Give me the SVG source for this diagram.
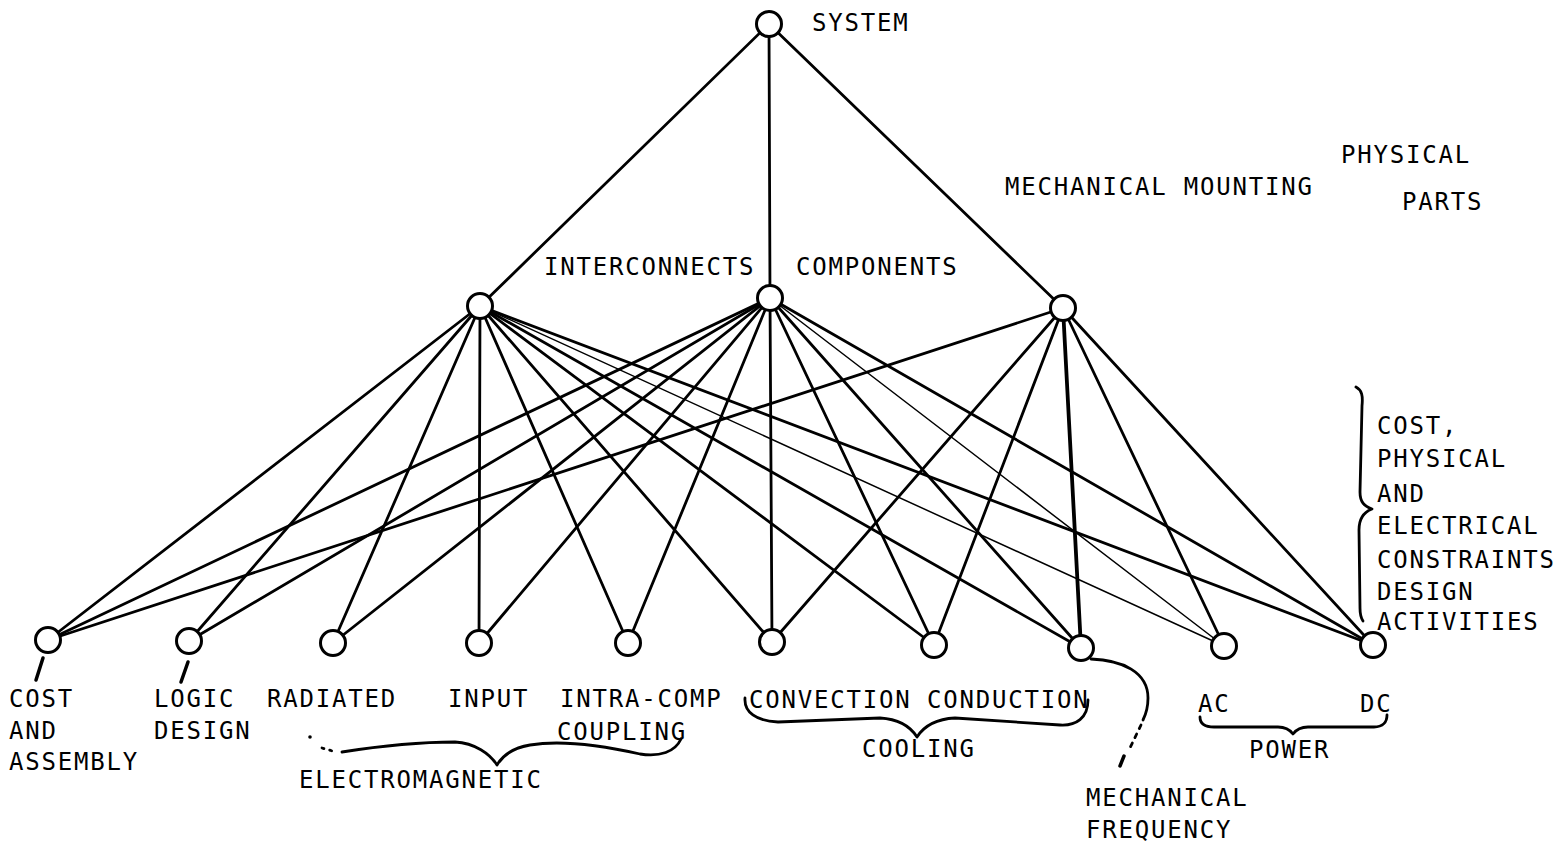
<svg xmlns="http://www.w3.org/2000/svg" width="1557" height="848" viewBox="0 0 1557 848">
  <style>
    .bg { fill: #ffffff; }
    .node { fill: #ffffff; stroke: #000000; stroke-width: 3; }
    .edge { stroke: #000000; stroke-width: 2.8; stroke-linecap: round; fill: none; }
    .thin { stroke-width: 1.5; }
    .heavy { stroke-width: 3.8; }
    .brace { stroke: #000000; stroke-width: 2.8; fill: none; stroke-linecap: round; stroke-linejoin: round; }
    .tick { stroke: #000000; stroke-width: 3.5; stroke-linecap: round; }
    .lbl { font-family: "DejaVu Sans Mono", "Liberation Mono", monospace; font-size: 24px; letter-spacing: 1.8px; fill: #000000; }
  </style>
  <rect class="bg" x="0" y="0" width="1557" height="848"/>

  <!-- connectors -->
  <g id="connectors">
    <!-- system to the three physical parts -->
    <line class="edge" x1="769" y1="24" x2="480" y2="306"/>
    <line class="edge" x1="769" y1="24" x2="770" y2="298"/>
    <line class="edge" x1="769" y1="24" x2="1063" y2="308"/>

    <!-- interconnects -->
    <line class="edge" x1="480" y1="306" x2="48" y2="640"/>
    <line class="edge" x1="480" y1="306" x2="189" y2="641"/>
    <line class="edge" x1="480" y1="306" x2="333" y2="643"/>
    <line class="edge" x1="480" y1="306" x2="479" y2="643"/>
    <line class="edge" x1="480" y1="306" x2="628" y2="643"/>
    <line class="edge" x1="480" y1="306" x2="772" y2="642"/>
    <line class="edge" x1="480" y1="306" x2="934" y2="645"/>
    <line class="edge" x1="480" y1="306" x2="1081" y2="648"/>
    <line class="edge thin" x1="480" y1="306" x2="1224" y2="646"/>
    <line class="edge" x1="480" y1="306" x2="1373" y2="645"/>

    <!-- components -->
    <line class="edge" x1="770" y1="298" x2="48" y2="640"/>
    <line class="edge" x1="770" y1="298" x2="189" y2="641"/>
    <line class="edge" x1="770" y1="298" x2="333" y2="643"/>
    <line class="edge" x1="770" y1="298" x2="479" y2="643"/>
    <line class="edge" x1="770" y1="298" x2="628" y2="643"/>
    <line class="edge" x1="770" y1="298" x2="772" y2="642"/>
    <line class="edge" x1="770" y1="298" x2="934" y2="645"/>
    <line class="edge" x1="770" y1="298" x2="1081" y2="648"/>
    <line class="edge thin" x1="770" y1="298" x2="1224" y2="646"/>
    <line class="edge" x1="770" y1="298" x2="1373" y2="645"/>

    <!-- mechanical mounting -->
    <line class="edge" x1="1063" y1="308" x2="48" y2="640"/>
    <line class="edge" x1="1063" y1="308" x2="772" y2="642"/>
    <line class="edge" x1="1063" y1="308" x2="934" y2="645"/>
    <line class="edge heavy" x1="1063" y1="308" x2="1081" y2="648"/>
    <line class="edge" x1="1063" y1="308" x2="1224" y2="646"/>
    <line class="edge" x1="1063" y1="308" x2="1373" y2="645"/>
  </g>

  <!-- nodes -->
  <g id="n-system"><circle class="node" cx="769" cy="24" r="12.5"/><text class="lbl" x="812" y="31">SYSTEM</text></g>
  <g id="n-interconnects"><circle class="node" cx="480" cy="306" r="12.5"/><text class="lbl" x="544" y="275">INTERCONNECTS</text></g>
  <g id="n-components"><circle class="node" cx="770" cy="298" r="12.5"/><text class="lbl" x="796" y="275">COMPONENTS</text></g>
  <g id="n-mounting"><circle class="node" cx="1063" cy="308" r="12.5"/><text class="lbl" x="1005" y="195">MECHANICAL MOUNTING</text></g>

  <g id="n-cost">
    <circle class="node" cx="48" cy="640" r="12.5"/>
    <line class="tick" x1="43" y1="658" x2="36" y2="680"/>
    <text class="lbl" x="9" y="707">COST</text>
    <text class="lbl" x="9" y="739">AND</text>
    <text class="lbl" x="9" y="770">ASSEMBLY</text>
  </g>
  <g id="n-logic">
    <circle class="node" cx="189" cy="641" r="12.5"/>
    <line class="tick" x1="188" y1="662" x2="181" y2="682"/>
    <text class="lbl" x="154" y="707">LOGIC</text>
    <text class="lbl" x="154" y="739">DESIGN</text>
  </g>
  <g id="n-radiated"><circle class="node" cx="333" cy="643" r="12.5"/><text class="lbl" x="267" y="707">RADIATED</text></g>
  <g id="n-input"><circle class="node" cx="479" cy="643" r="12.5"/><text class="lbl" x="448" y="707">INPUT</text></g>
  <g id="n-intra">
    <circle class="node" cx="628" cy="643" r="12.5"/>
    <text class="lbl" x="560" y="707">INTRA-COMP</text>
    <text class="lbl" x="557" y="740">COUPLING</text>
  </g>
  <g id="n-convection"><circle class="node" cx="772" cy="642" r="12.5"/><text class="lbl" x="749" y="708">CONVECTION</text></g>
  <g id="n-conduction"><circle class="node" cx="934" cy="645" r="12.5"/><text class="lbl" x="927" y="708">CONDUCTION</text></g>
  <g id="n-mechfreq">
    <circle class="node" cx="1081" cy="648" r="12.5"/>
    <path class="brace" d="M1091,659 C1122,660 1148,672 1148,698 C1148,708 1146,714 1143,720"/>
    <path class="brace" d="M1141,725 L1128,752" stroke-dasharray="4 6"/>
    <line class="tick" x1="1124" y1="756" x2="1120" y2="766"/>
    <text class="lbl" x="1086" y="806">MECHANICAL</text>
    <text class="lbl" x="1086" y="838">FREQUENCY</text>
  </g>
  <g id="n-ac"><circle class="node" cx="1224" cy="646" r="12.5"/><text class="lbl" x="1198" y="712">AC</text></g>
  <g id="n-dc"><circle class="node" cx="1373" cy="645" r="12.5"/><text class="lbl" x="1360" y="712">DC</text></g>

  <!-- group labels and braces -->
  <g id="g-physical">
    <text class="lbl" x="1341" y="163">PHYSICAL</text>
    <text class="lbl" x="1402" y="210">PARTS</text>
  </g>
  <g id="g-activities">
    <path class="brace" d="M1356,387 C1362,390 1363,396 1362,406 L1360,492 C1360,502 1364,506 1372,509 C1364,512 1359,518 1359,530 L1360,608 C1360,615 1361,618 1363,621"/>
    <text class="lbl" x="1377" y="434">COST,</text>
    <text class="lbl" x="1377" y="467">PHYSICAL</text>
    <text class="lbl" x="1377" y="502">AND</text>
    <text class="lbl" x="1377" y="534">ELECTRICAL</text>
    <text class="lbl" x="1377" y="568">CONSTRAINTS</text>
    <text class="lbl" x="1377" y="600">DESIGN</text>
    <text class="lbl" x="1377" y="630">ACTIVITIES</text>
  </g>
  <g id="g-electromagnetic">
    <circle cx="310" cy="737" r="1.8" fill="#000000"/>
    <path class="brace" d="M322,748 L336,752" stroke-dasharray="2 6" stroke-width="1.5"/>
    <path class="brace" d="M342,752 C380,746 420,742 455,742 C475,743 490,754 497,765 C503,755 512,748 530,745 C560,740 600,745 640,754 C660,757 675,752 681,739"/>
    <text class="lbl" x="299" y="788">ELECTROMAGNETIC</text>
  </g>
  <g id="g-cooling">
    <path class="brace" d="M745,698 C744,712 756,721 778,722 L880,718 C898,719 910,726 917,737 C924,726 936,719 955,718 L1060,725 C1076,726 1088,718 1088,700"/>
    <text class="lbl" x="862" y="757">COOLING</text>
  </g>
  <g id="g-power">
    <path class="brace" d="M1200,717 C1200,724 1205,727 1214,727 L1278,727 C1286,727 1290,730 1293,734 C1296,730 1300,727 1308,727 L1374,727 C1383,727 1387,722 1387,715"/>
    <text class="lbl" x="1249" y="758">POWER</text>
  </g>
</svg>
